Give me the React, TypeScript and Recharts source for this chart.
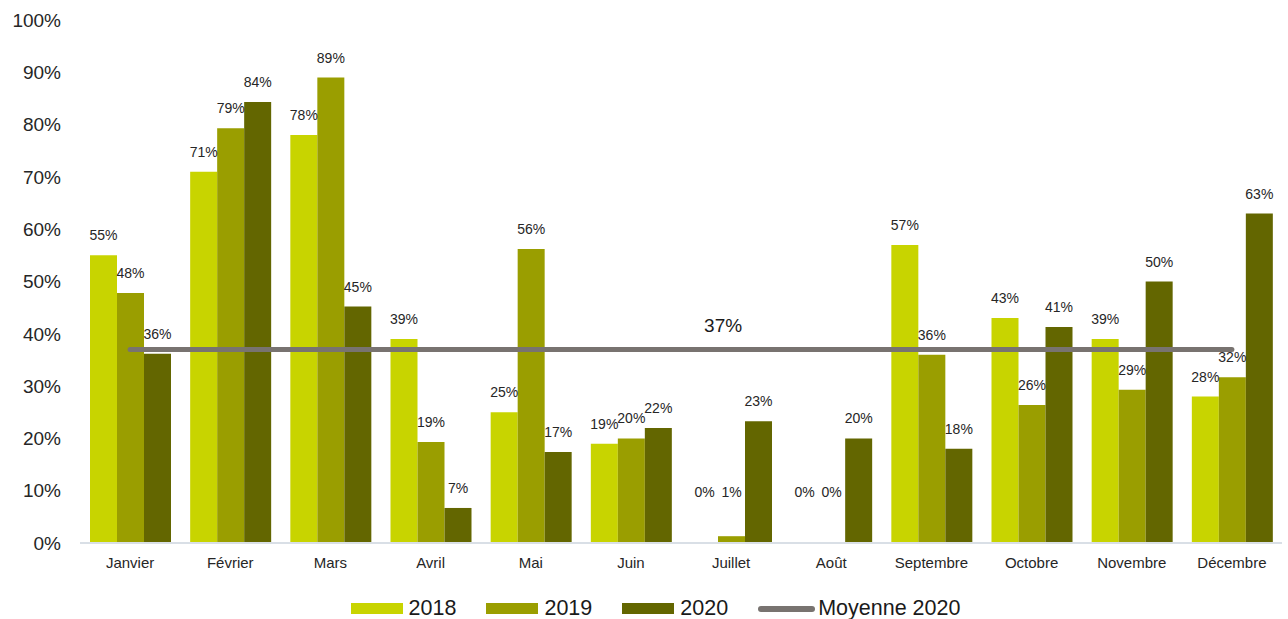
import React from 'react';
import { ComposedChart, Bar, Line, XAxis, YAxis, Legend, LabelList } from 'recharts';

// Monthly rates (percent)
const months = ['Janvier', 'Février', 'Mars', 'Avril', 'Mai', 'Juin', 'Juillet', 'Août', 'Septembre', 'Octobre', 'Novembre', 'Décembre'];
const values2018 = [55, 71, 78, 39, 25, 19, 0, 0, 57, 43, 39, 28];
const values2019 = [47.8, 79.3, 89, 19.3, 56.2, 20, 1.3, 0, 36, 26.4, 29.3, 31.7];
const values2020 = [36.2, 84.3, 45.2, 6.7, 17.4, 22, 23.3, 20, 18, 41.3, 50, 63];
const average2020 = 37;
const yTicks = [0, 10, 20, 30, 40, 50, 60, 70, 80, 90, 100];

const FONT = '"Liberation Sans", Arial, sans-serif';

// Color palette for the series
const COLORS = {
  y2018: '#c8d400',
  y2019: '#9a9e00',
  y2020: '#636600',
  avg: '#787370',
};

const chartData = months.map((m, i) => ({
  month: m,
  y2018: values2018[i],
  y2019: values2019[i],
  y2020: values2020[i],
  avg: average2020,
}));

const legendItems = [
  { label: '2018', color: COLORS.y2018, type: 'rect' },
  { label: '2019', color: COLORS.y2019, type: 'rect' },
  { label: '2020', color: COLORS.y2020, type: 'rect' },
  { label: 'Moyenne 2020', color: COLORS.avg, type: 'line' },
];

// Value label above each bar; small bars keep their label a bit higher
const renderBarLabel = (props: any) => {
  const { x, y, width, height, value } = props;
  const top = Math.min(y, y + (height || 0));
  const cy = Math.min(top - 20, 492);
  return (
    <text
      x={x + width / 2}
      y={cy}
      textAnchor="middle"
      dominantBaseline="central"
      fontSize={14}
      fill="#262626"
      fontFamily={FONT}
    >
      {`${Math.round(value)}%`}
    </text>
  );
};

const renderAvgLabel = (props: any) => {
  const { x, y, index } = props;
  if (index !== 6) return <g />;
  return (
    <text x={x - 8} y={y - 24} textAnchor="middle" dominantBaseline="central" fontSize={19} fill="#1a1a1a" fontFamily={FONT}>
      {`${average2020}%`}
    </text>
  );
};

// zero values still need a (invisible) rectangle so their label is drawn
const zeroMin = (v: number) => (v === 0 ? 0.01 : 0);

const renderLegend = () => (
  <div
    style={{
      display: 'flex',
      justifyContent: 'center',
      alignItems: 'center',
      paddingLeft: 23,
      paddingTop: 23,
      fontFamily: FONT,
      fontSize: 21.5,
      color: '#1a1a1a',
    }}
  >
    {legendItems.map((item, i) => (
      <div
        key={item.label}
        style={{ display: 'flex', alignItems: 'center', marginRight: i === legendItems.length - 1 ? 0 : 30 }}
      >
        {item.type === 'rect' ? (
          <div style={{ width: 52, height: 11, background: item.color, marginRight: 6 }} />
        ) : (
          <div style={{ width: 57, height: 6, borderRadius: 3, background: item.color, marginRight: 3 }} />
        )}
        <span>{item.label}</span>
      </div>
    ))}
  </div>
);

export default function App() {
  return (
    <div style={{ position: 'absolute', left: 0, top: 0, width: 1288, height: 619, background: '#fff' }}>
      <ComposedChart
        width={1288}
        height={619}
        data={chartData}
        margin={{ top: 20, right: 6, left: 0, bottom: 0 }}
        barGap={0}
      >
        <XAxis
          dataKey="month"
          height={30}
          tickLine={false}
          axisLine={{ stroke: '#d9dfe6', strokeWidth: 2 }}
          tick={{ fontSize: 15, fill: '#262626', fontFamily: FONT }}
          tickMargin={8}
          interval={0}
        />
        <YAxis
          width={80}
          domain={[0, 100]}
          ticks={yTicks}
          tickFormatter={(v: number) => `${v}%`}
          axisLine={false}
          tickLine={false}
          tickMargin={13}
          tick={{ fontSize: 19, fill: '#262626', fontFamily: FONT }}
        />
        <Legend verticalAlign="bottom" height={46} content={renderLegend} wrapperStyle={{ left: 0, width: 1288 }} />
        <Bar dataKey="y2018" fill={COLORS.y2018} barSize={27} minPointSize={zeroMin} isAnimationActive={false}>
          <LabelList dataKey="y2018" content={renderBarLabel} />
        </Bar>
        <Bar dataKey="y2019" fill={COLORS.y2019} barSize={27} minPointSize={zeroMin} isAnimationActive={false}>
          <LabelList dataKey="y2019" content={renderBarLabel} />
        </Bar>
        <Bar dataKey="y2020" fill={COLORS.y2020} barSize={27} minPointSize={zeroMin} isAnimationActive={false}>
          <LabelList dataKey="y2020" content={renderBarLabel} />
        </Bar>
        <Line
          dataKey="avg"
          stroke={COLORS.avg}
          strokeWidth={5}
          strokeLinecap="round"
          dot={false}
          activeDot={false}
          isAnimationActive={false}
          label={renderAvgLabel}
        />
      </ComposedChart>
    </div>
  );
}
